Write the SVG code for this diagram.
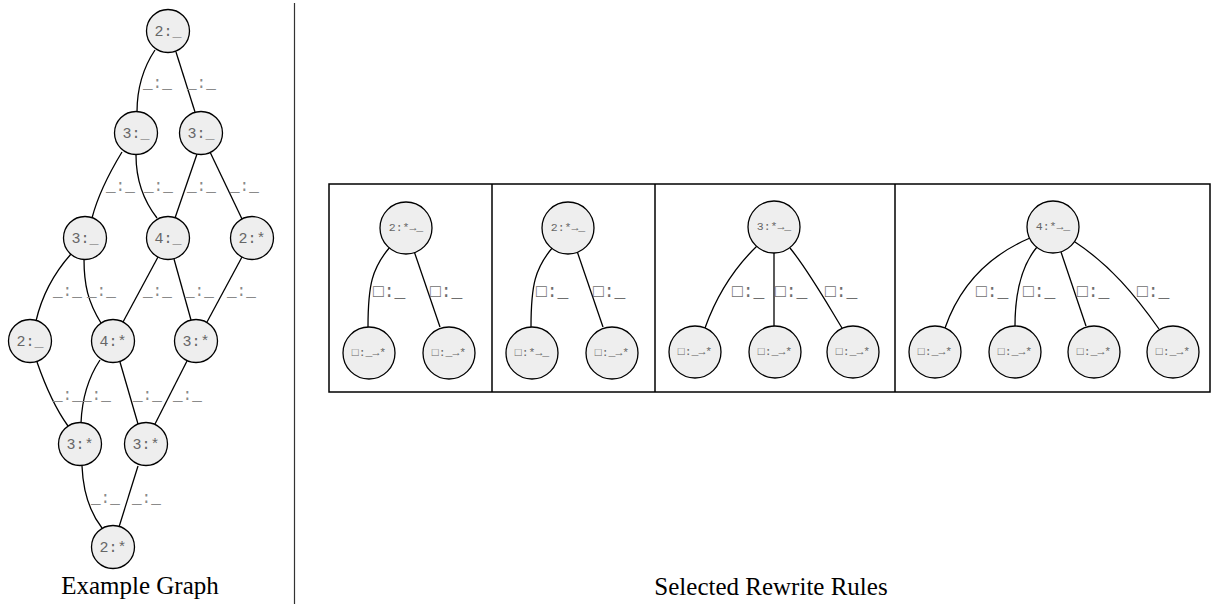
<svg xmlns="http://www.w3.org/2000/svg" width="1213" height="604" viewBox="0 0 1213 604">
  <style>
    .node circle { fill: #eeeeee; stroke: #000; stroke-width: 1.3; }
    .gn text { font-family: "Liberation Mono", "DejaVu Sans Mono", monospace; font-size: 15px; fill: #666; text-anchor: middle; }
    .rn text { font-family: "Liberation Mono", "DejaVu Sans Mono", monospace; font-size: 11.5px; fill: #666; text-anchor: middle; }
    .edges path { fill: none; stroke: #000; stroke-width: 1.3; }
    .gl { font-family: "Liberation Mono", "DejaVu Sans Mono", monospace; font-size: 16px; fill: #8a8a8a; }
    .rl { font-family: "Liberation Mono", "DejaVu Sans Mono", monospace; font-size: 18px; fill: #6e6e6e; }
    .caption { font-family: "Liberation Serif", "Times New Roman", serif; font-size: 25px; fill: #000; text-anchor: middle; }
    .frame { fill: none; stroke: #000; stroke-width: 1.5; }
  </style>

  <!-- divider between the two halves -->
  <line x1="294.5" y1="3" x2="294.5" y2="604" stroke="#333" stroke-width="1.2"/>

  <!-- rule panels -->
  <g id="panels">
    <rect class="frame" x="329" y="184" width="881" height="208"/>
    <line class="frame" x1="492" y1="184" x2="492" y2="392"/>
    <line class="frame" x1="655" y1="184" x2="655" y2="392"/>
    <line class="frame" x1="895" y1="184" x2="895" y2="392"/>
  </g>

  <!-- connectors -->
  <g id="connectors" class="edges">
    <!-- example graph -->
    <path d="M155,50 C143,68 137,90 137,112"/>
    <path d="M176,52 L195,112"/>
    <path d="M122,152 C108,175 98,195 92,218"/>
    <path d="M136,155 C136,180 143,200 157,218"/>
    <path d="M197,154 L175,218"/>
    <path d="M210,152 L242,219"/>
    <path d="M71,254 C55,272 42,295 36,321"/>
    <path d="M84,259 C84,285 88,302 101,323"/>
    <path d="M158,257 L123,322"/>
    <path d="M174,259 L191,320"/>
    <path d="M242,257 L207,322"/>
    <path d="M37,362 C45,385 55,408 68,426"/>
    <path d="M100,360 C88,378 82,398 81,423"/>
    <path d="M120,362 L138,424"/>
    <path d="M187,361 L155,424"/>
    <path d="M82,466 C83,490 88,510 102,528"/>
    <path d="M138,466 L119,527"/>
    <!-- rule 1 -->
    <path d="M390,247 C372,268 368,285 368,327"/>
    <path d="M414,251 L440,327"/>
    <!-- rule 2 -->
    <path d="M553,247 C535,268 531,285 531,327"/>
    <path d="M577,251 L603,327"/>
    <!-- rule 3 -->
    <path d="M757,246 C730,272 715,300 705,328"/>
    <path d="M774,253 L774,326"/>
    <path d="M790,248 C808,270 825,300 842,328"/>
    <!-- rule 4 -->
    <path d="M1030,238 C990,255 960,285 945,328"/>
    <path d="M1037,247 C1022,265 1015,290 1015,326"/>
    <path d="M1061,252 L1086,326"/>
    <path d="M1075,242 C1110,265 1135,295 1159,329"/>
  </g>

  <!-- connector labels -->
  <g id="connector-labels">
    <text class="gl" x="143" y="88">_:_</text>
    <text class="gl" x="187" y="88">_:_</text>
    <text class="gl" x="106" y="191">_:_</text>
    <text class="gl" x="144" y="191">_:_</text>
    <text class="gl" x="187" y="191">_:_</text>
    <text class="gl" x="230" y="191">_:_</text>
    <text class="gl" x="53" y="296">_:_</text>
    <text class="gl" x="87" y="296">_:_</text>
    <text class="gl" x="143" y="296">_:_</text>
    <text class="gl" x="185" y="296">_:_</text>
    <text class="gl" x="227" y="296">_:_</text>
    <text class="gl" x="53" y="400">_:_</text>
    <text class="gl" x="82" y="400">_:_</text>
    <text class="gl" x="133" y="400">_:_</text>
    <text class="gl" x="173" y="400">_:_</text>
    <text class="gl" x="91" y="503">_:_</text>
    <text class="gl" x="132" y="503">_:_</text>

    <text class="rl" x="373" y="297">□:_</text>
    <text class="rl" x="430" y="297">□:_</text>
    <text class="rl" x="536" y="297">□:_</text>
    <text class="rl" x="593" y="297">□:_</text>
    <text class="rl" x="732" y="297">□:_</text>
    <text class="rl" x="775" y="297">□:_</text>
    <text class="rl" x="825" y="297">□:_</text>
    <text class="rl" x="976" y="297">□:_</text>
    <text class="rl" x="1023" y="297">□:_</text>
    <text class="rl" x="1077" y="297">□:_</text>
    <text class="rl" x="1137" y="297">□:_</text>
  </g>

  <!-- example graph nodes -->
  <g id="g-a" class="node gn"><circle cx="168" cy="31" r="21.5"/><text x="168" y="36">2:_</text></g>
  <g id="g-b1" class="node gn"><circle cx="136" cy="133" r="21.5"/><text x="136" y="138">3:_</text></g>
  <g id="g-b2" class="node gn"><circle cx="201" cy="133" r="21.5"/><text x="201" y="138">3:_</text></g>
  <g id="g-c1" class="node gn"><circle cx="85" cy="238" r="21.5"/><text x="85" y="243">3:_</text></g>
  <g id="g-c2" class="node gn"><circle cx="168" cy="238" r="21.5"/><text x="168" y="243">4:_</text></g>
  <g id="g-c3" class="node gn"><circle cx="252" cy="238" r="21.5"/><text x="252" y="243">2:*</text></g>
  <g id="g-d1" class="node gn"><circle cx="30" cy="341" r="21.5"/><text x="30" y="346">2:_</text></g>
  <g id="g-d2" class="node gn"><circle cx="113" cy="341" r="21.5"/><text x="113" y="346">4:*</text></g>
  <g id="g-d3" class="node gn"><circle cx="196" cy="341" r="21.5"/><text x="196" y="346">3:*</text></g>
  <g id="g-e1" class="node gn"><circle cx="80" cy="444" r="21.5"/><text x="80" y="449">3:*</text></g>
  <g id="g-e2" class="node gn"><circle cx="146" cy="444" r="21.5"/><text x="146" y="449">3:*</text></g>
  <g id="g-f" class="node gn"><circle cx="113" cy="547" r="21.5"/><text x="113" y="552">2:*</text></g>

  <!-- rule nodes -->
  <g id="r1-top" class="node rn"><circle cx="406" cy="228" r="26"/><text x="406" y="231">2:*→_</text></g>
  <g id="r1-l" class="node rn"><circle cx="369" cy="353" r="26"/><text x="369" y="356">□:_→*</text></g>
  <g id="r1-r" class="node rn"><circle cx="449" cy="353" r="26"/><text x="449" y="356">□:_→*</text></g>

  <g id="r2-top" class="node rn"><circle cx="568" cy="228" r="26"/><text x="568" y="231">2:*→_</text></g>
  <g id="r2-l" class="node rn"><circle cx="532" cy="353" r="26"/><text x="532" y="356">□:*→_</text></g>
  <g id="r2-r" class="node rn"><circle cx="612" cy="353" r="26"/><text x="612" y="356">□:_→*</text></g>

  <g id="r3-top" class="node rn"><circle cx="774" cy="227" r="26"/><text x="774" y="230">3:*→_</text></g>
  <g id="r3-l" class="node rn"><circle cx="695" cy="352" r="26"/><text x="695" y="355">□:_→*</text></g>
  <g id="r3-m" class="node rn"><circle cx="775" cy="352" r="26"/><text x="775" y="355">□:_→*</text></g>
  <g id="r3-r" class="node rn"><circle cx="853" cy="352" r="26"/><text x="853" y="355">□:_→*</text></g>

  <g id="r4-top" class="node rn"><circle cx="1053" cy="227" r="26"/><text x="1053" y="230">4:*→_</text></g>
  <g id="r4-1" class="node rn"><circle cx="935" cy="352" r="26"/><text x="935" y="355">□:_→*</text></g>
  <g id="r4-2" class="node rn"><circle cx="1015" cy="352" r="26"/><text x="1015" y="355">□:_→*</text></g>
  <g id="r4-3" class="node rn"><circle cx="1094" cy="352" r="26"/><text x="1094" y="355">□:_→*</text></g>
  <g id="r4-4" class="node rn"><circle cx="1173" cy="352" r="26"/><text x="1173" y="355">□:_→*</text></g>

  <!-- captions -->
  <text class="caption" x="140" y="594">Example Graph</text>
  <text class="caption" x="771" y="595">Selected Rewrite Rules</text>
</svg>
